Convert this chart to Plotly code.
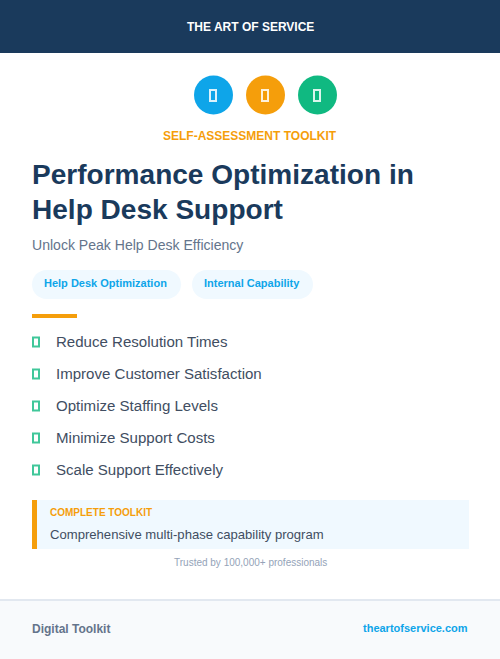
import plotly.graph_objects as go

# Texts
brand = "THE ART OF SERVICE"
kicker = "SELF-ASSESSMENT TOOLKIT"
title_lines = ["Performance Optimization in", "Help Desk Support"]
subtitle = "Unlock Peak Help Desk Efficiency"
tags = ["Help Desk Optimization", "Internal Capability"]
bullets = [
    "Reduce Resolution Times",
    "Improve Customer Satisfaction",
    "Optimize Staffing Levels",
    "Minimize Support Costs",
    "Scale Support Effectively",
]
callout_head = "COMPLETE TOOLKIT"
callout_text = "Comprehensive multi-phase capability program"
trusted = "Trusted by 100,000+ professionals"
footer_left = "Digital Toolkit"
footer_right = "theartofservice.com"

# Colours
NAVY = "#1a3a5c"
BLUE = "#0ea5e9"
ORANGE = "#f59e0b"
GREEN = "#10b981"
PALE = "#f0f9ff"
BODY = "#414e62"
icon_colors = [BLUE, ORANGE, GREEN]

FONT = "Liberation Sans"
shapes = []
notes = []


def rect(x0, y0, x1, y1, color):
    shapes.append(dict(type="rect", x0=x0, y0=y0, x1=x1, y1=y1,
                       fillcolor=color, line_width=0, layer="below"))


# empty box where the reference has a missing icon glyph
def box(x0, y0, x1, y1, color):
    shapes.append(dict(type="rect", x0=x0, y0=y0, x1=x1, y1=y1,
                       fillcolor="rgba(0,0,0,0)", line=dict(color=color, width=2)))


def pill(x0, y0, x1, y1, color):
    r = (y1 - y0) / 2
    k = r * 0.5523
    path = (f"M {x0 + r} {y0} L {x1 - r} {y0} "
            f"C {x1 - r + k} {y0} {x1} {y0 + r - k} {x1} {y0 + r} "
            f"C {x1} {y0 + r + k} {x1 - r + k} {y1} {x1 - r} {y1} "
            f"L {x0 + r} {y1} "
            f"C {x0 + r - k} {y1} {x0} {y0 + r + k} {x0} {y0 + r} "
            f"C {x0} {y0 + r - k} {x0 + r - k} {y0} {x0 + r} {y0} Z")
    shapes.append(dict(type="path", path=path, fillcolor=color, line_width=0, layer="below"))


def text(x, y, s, size, color, anchor="left", weight=400):
    shift = {"left": -1, "center": 0, "right": 1}[anchor]
    notes.append(dict(x=x, y=y, text=s, showarrow=False, xanchor=anchor, yanchor="middle",
                      xshift=shift, borderpad=0,
                      font=dict(family=FONT, size=size, color=color, weight=weight)))


# Header
rect(0, 0, 500, 53, NAVY)
text(250, 26.5, brand, 12, "white", "center", 700)

# Icon circles
for i, col in enumerate(icon_colors):
    cx = 213.5 + i * 52
    shapes.append(dict(type="circle", x0=cx - 19.5, y0=75.5, x1=cx + 19.5, y1=114.5,
                       fillcolor=col, line_width=0, layer="below"))
    box(cx - 3.5, 90, cx + 2.5, 101, "rgba(255,255,255,0.85)")

text(250, 135.5, kicker, 12, ORANGE, "center", 700)

# Title block
text(32, 174, title_lines[0], 28.05, NAVY, weight=700)
text(32, 209, title_lines[1], 28.05, NAVY, weight=700)
text(32, 245, subtitle, 14.05, "#64748b")

# Tags
pill(32, 270, 181, 299, PALE)
pill(192, 270, 313, 299, PALE)
text(44, 283, tags[0], 11, BLUE, weight=700)
text(204, 283, tags[1], 11, BLUE, weight=700)

rect(32, 314, 77, 318, ORANGE)

# Bullet list
for i, b in enumerate(bullets):
    y = 341.5 + i * 32
    box(33, y - 4, 39, y + 5, "rgba(16,185,129,0.8)")
    text(56, y, b, 15.05, BODY)

# Callout
rect(32, 500, 469, 549, PALE)
rect(32, 500, 37, 549, ORANGE)
text(50, 512, callout_head, 10, ORANGE, weight=700)
text(50, 534.5, callout_text, 13.1, BODY)
text(250, 562.5, trusted, 10, "#94a3b8", "center")

# Footer
rect(0, 600, 500, 659, "#f8fafc")
rect(0, 599, 500, 601, "#e2e8f0")
text(32, 629, footer_left, 12, "#64748b", weight=700)
text(468, 628, footer_right, 11, BLUE, "right", 700)

fig = go.Figure()
fig.update_layout(
    width=500,
    height=659,
    margin=dict(l=0, r=0, t=0, b=0),
    paper_bgcolor="white",
    plot_bgcolor="white",
    showlegend=False,
    xaxis=dict(range=[0, 500], visible=False, fixedrange=True),
    yaxis=dict(range=[659, 0], visible=False, fixedrange=True),
    shapes=shapes,
    annotations=notes,
)

fig.write_html("out.html", config={"displayModeBar": False},
               post_script="document.body.style.margin='0';document.body.style.overflow='hidden';")
